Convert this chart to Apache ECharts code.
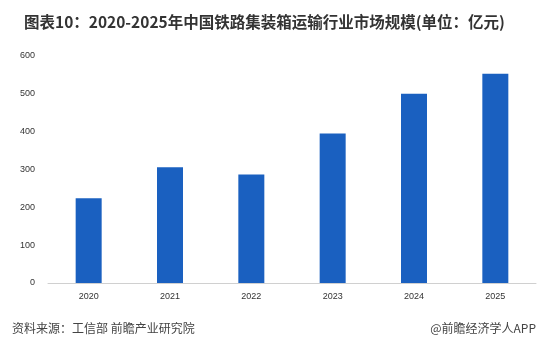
<!DOCTYPE html>
<html><head><meta charset="utf-8">
<script src="https://cdn.jsdelivr.net/npm/echarts@6/dist/echarts.min.js"></script>
<style>html,body{margin:0;padding:0;background:#fff}#c{width:544px;height:347px}</style>
</head><body><div id="c"></div>
<script>
var categories = ['2020','2021','2022','2023','2024','2025'];
var values = [224, 306, 287, 395, 500, 553];
var yTicks = [0,100,200,300,400,500,600];
var titleText = '图表10：2020-2025年中国铁路集装箱运输行业市场规模(单位：亿元)';
var sourceText = '资料来源：工信部 前瞻产业研究院';
var brandText = '@前瞻经济学人APP';

var chart = echarts.init(document.getElementById('c'));
chart.setOption({
  animation: false,
  title: [
    {text: titleText, left: 19, top: 9, textStyle: {fontSize: 15.5, fontWeight: 'bold', color: '#333', fontFamily: 'Noto Sans CJK SC'}},
    {text: sourceText, left: 7, top: 317, textStyle: {fontSize: 12, fontWeight: 'normal', color: '#444', fontFamily: 'Noto Sans CJK SC'}},
    {text: brandText, right: 3, top: 317, textStyle: {fontSize: 12, fontWeight: 'normal', color: '#444', fontFamily: 'Noto Sans CJK SC'}}
  ],
  grid: {left: 48, right: 8, top: 56, bottom: 64, containLabel: false},
  xAxis: {
    type: 'category', data: categories,
    axisLine: {lineStyle: {color: '#d0d0d0'}},
    axisTick: {show: false},
    axisLabel: {color: '#333', fontSize: 9, margin: 9, fontFamily: 'Liberation Sans'}
  },
  yAxis: {
    type: 'value', min: yTicks[0], max: yTicks[yTicks.length-1], interval: 100,
    splitLine: {show: false},
    axisLine: {show: false}, axisTick: {show: false},
    axisLabel: {color: '#333', fontSize: 9, margin: 13, fontFamily: 'Liberation Sans'}
  },
  series: [{
    type: 'bar', data: values, barWidth: 26,
    itemStyle: {color: '#1a60c0'}
  }]
});
</script></body></html>
